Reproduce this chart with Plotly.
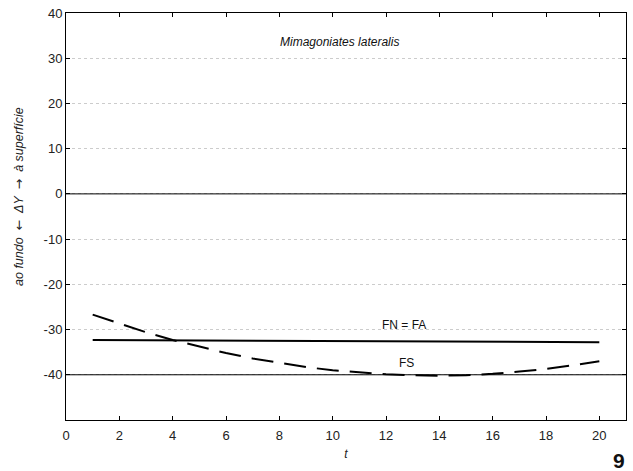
import plotly.graph_objects as go

# Time steps and the two fitted depth-change curves
t = list(range(1, 21))
fn_fa = [-32.3, -32.33, -32.36, -32.38, -32.41, -32.44, -32.46, -32.49, -32.52, -32.55,
         -32.57, -32.6, -32.62, -32.65, -32.67, -32.7, -32.72, -32.75, -32.77, -32.8]
fs = [-26.7, -28.7, -30.6, -32.3, -33.8, -35.2, -36.4, -37.4, -38.3, -39.0,
      -39.5, -39.9, -40.1, -40.2, -40.1, -39.8, -39.3, -38.7, -37.9, -37.0]

y_ticks = [40, 30, 20, 10, 0, -10, -20, -30, -40]
y_tick_text = ["40", "30", "20", "10", "0", "-10", "-20", "-30", "-40"]
x_ticks = list(range(0, 21, 2))
ref_lines = [0, -40]

font_family = "Liberation Sans, Arial, sans-serif"
arrow = '<span style="font-family:DejaVu Sans">{}</span>'

fig = go.Figure()
fig.add_trace(go.Scatter(x=t, y=fn_fa, mode="lines",
                         line=dict(color="black", width=2), showlegend=False))
fig.add_trace(go.Scatter(x=t, y=fs, mode="lines",
                         line=dict(color="black", width=2, dash="22px,11px"),
                         showlegend=False))

for yv in ref_lines:
    fig.add_shape(type="line", xref="paper", x0=0, x1=1, yref="y", y0=yv, y1=yv,
                  line=dict(color="black", width=1), layer="above")

fig.add_annotation(x=10.26, y=33.5, text="<i>Mimagoniates lateralis</i>",
                   showarrow=False, font=dict(size=12, color="#111"))
fig.add_annotation(x=12.66, y=-29.1, text="FN = FA", showarrow=False,
                   font=dict(size=12, color="#111"))
fig.add_annotation(x=12.75, y=-37.5, text="FS", showarrow=False,
                   font=dict(size=12, color="#111"))
fig.add_annotation(xref="paper", yref="paper", x=0.988, y=-0.1, xanchor="center",
                   yanchor="middle", text="<b>9</b>", showarrow=False,
                   font=dict(size=21, color="#111"))

# Rotated y-axis caption, placed a little above the plot's vertical centre
gap = "&nbsp;&nbsp;"
y_title = ("<i>ao fundo" + gap + arrow.format("←") + gap + "ΔY" + gap
           + arrow.format("→") + gap + "à superfície</i>")
fig.add_annotation(xref="paper", yref="paper", x=-0.086, y=0.55,
                   xanchor="center", yanchor="middle", textangle=-90,
                   text=y_title, showarrow=False,
                   font=dict(size=12.5, color="#222"))

fig.update_layout(
    width=633, height=471,
    margin=dict(l=66, r=6, t=10, b=51),
    paper_bgcolor="white", plot_bgcolor="white",
    font=dict(family=font_family, size=13, color="#222"),
    xaxis=dict(range=[0, 21], tickvals=x_ticks, ticks="inside", ticklen=4,
               tickcolor="black", showgrid=False, zeroline=False,
               showline=True, linecolor="black", linewidth=1, mirror="ticks",
               ticklabelstandoff=3,
               title=dict(text="<i>t</i>", standoff=8, font=dict(size=12))),
    yaxis=dict(range=[-50, 40], tickvals=y_ticks, ticktext=y_tick_text,
               ticks="inside", ticklen=4,
               tickcolor="black", showgrid=True, gridcolor="#cccccc",
               griddash="dot", gridwidth=1, zeroline=False,
               showline=True, linecolor="black", linewidth=1, mirror="ticks"),
)

fig.write_html("out.html")
